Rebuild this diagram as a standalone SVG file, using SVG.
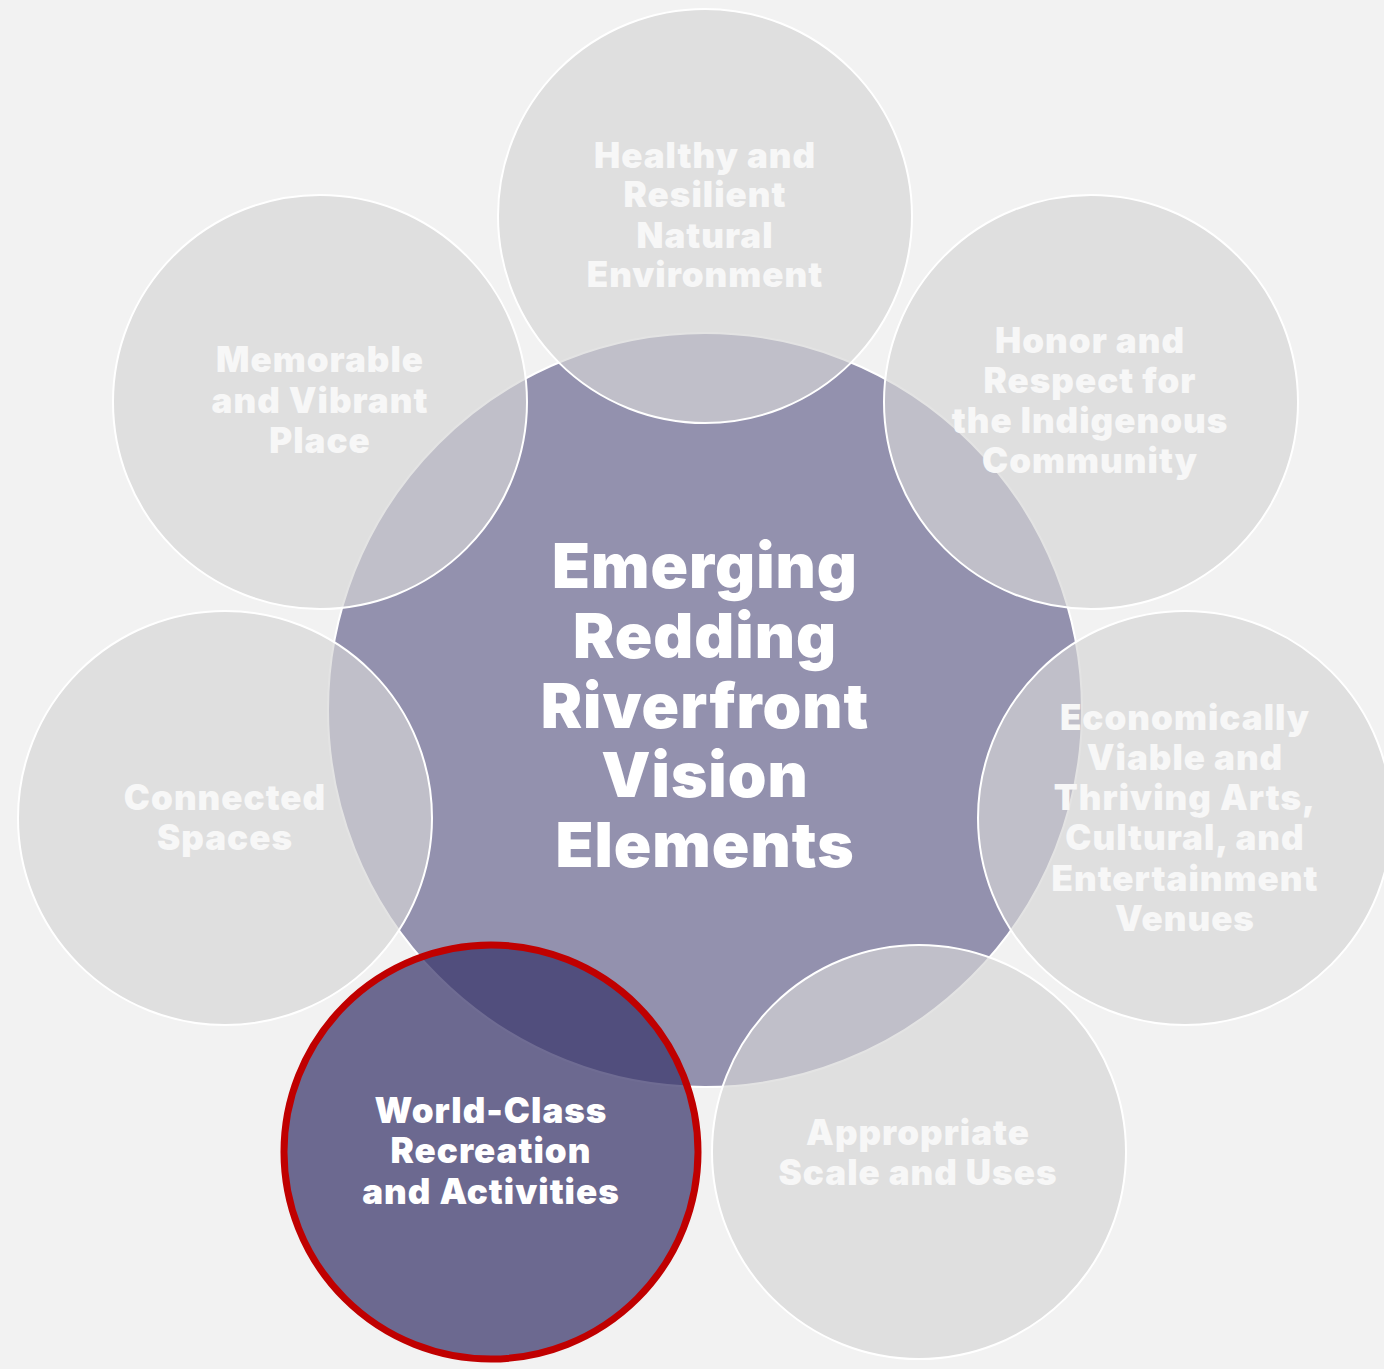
<svg xmlns="http://www.w3.org/2000/svg" width="1384" height="1369" viewBox="0 0 1384 1369">
<style>
.bg{fill:#f2f2f2}
.core{fill:#9391ae;stroke:#ffffff;stroke-width:2}
.petal{fill:#d6d6d6;fill-opacity:0.675;stroke:#ffffff;stroke-width:2}
.hl{fill:#38356a;fill-opacity:0.725;stroke:#c00000;stroke-width:7}
.t{font-family:Inter,"Open Sans","Liberation Sans",sans-serif;font-weight:900;text-anchor:middle}
.pt{font-size:35px;fill:#f7f7f7;letter-spacing:1px}
.ht{font-size:35px;fill:#ffffff;letter-spacing:1px}
.ct{font-size:62px;fill:#ffffff;letter-spacing:1px}
</style>
<rect class="bg" x="0" y="0" width="1384" height="1369"/>
<g id="center">
<circle class="core" cx="705" cy="710" r="377"/>
</g>
<g id="connectors"></g>
<g id="healthy">
<circle class="petal" cx="705" cy="216" r="207"/>
<text class="t pt" x="705"><tspan x="705" y="168">Healthy and</tspan><tspan x="705" y="207">Resilient</tspan><tspan x="705" y="248">Natural</tspan><tspan x="705" y="287">Environment</tspan></text>
</g>
<g id="honor">
<circle class="petal" cx="1091" cy="402" r="207"/>
<text class="t pt"><tspan x="1090" y="353">Honor and</tspan><tspan x="1090" y="393">Respect for</tspan><tspan x="1090" y="433">the Indigenous</tspan><tspan x="1090" y="473">Community</tspan></text>
</g>
<g id="economic">
<circle class="petal" cx="1185" cy="818" r="207"/>
<text class="t pt"><tspan x="1185" y="730">Economically</tspan><tspan x="1185" y="770">Viable and</tspan><tspan x="1185" y="810">Thriving Arts,</tspan><tspan x="1185" y="850">Cultural, and</tspan><tspan x="1185" y="891">Entertainment</tspan><tspan x="1185" y="931">Venues</tspan></text>
</g>
<g id="scale">
<circle class="petal" cx="919" cy="1152" r="207"/>
<text class="t pt"><tspan x="918" y="1145">Appropriate</tspan><tspan x="918" y="1185">Scale and Uses</tspan></text>
</g>
<g id="connected">
<circle class="petal" cx="225" cy="818" r="207"/>
<text class="t pt"><tspan x="225" y="810">Connected</tspan><tspan x="225" y="850">Spaces</tspan></text>
</g>
<g id="memorable">
<circle class="petal" cx="320" cy="402" r="207"/>
<text class="t pt"><tspan x="320" y="372">Memorable</tspan><tspan x="320" y="413">and Vibrant</tspan><tspan x="320" y="453">Place</tspan></text>
</g>
<g id="center-label">
<text class="t ct"><tspan x="705" y="588">Emerging</tspan><tspan x="705" y="658">Redding</tspan><tspan x="705" y="728">Riverfront</tspan><tspan x="705" y="797">Vision</tspan><tspan x="705" y="867">Elements</tspan></text>
</g>
<g id="recreation">
<circle class="hl" cx="491" cy="1152" r="207"/>
<text class="t ht"><tspan x="491" y="1123">World-Class</tspan><tspan x="491" y="1163">Recreation</tspan><tspan x="491" y="1204">and Activities</tspan></text>
</g>
</svg>
